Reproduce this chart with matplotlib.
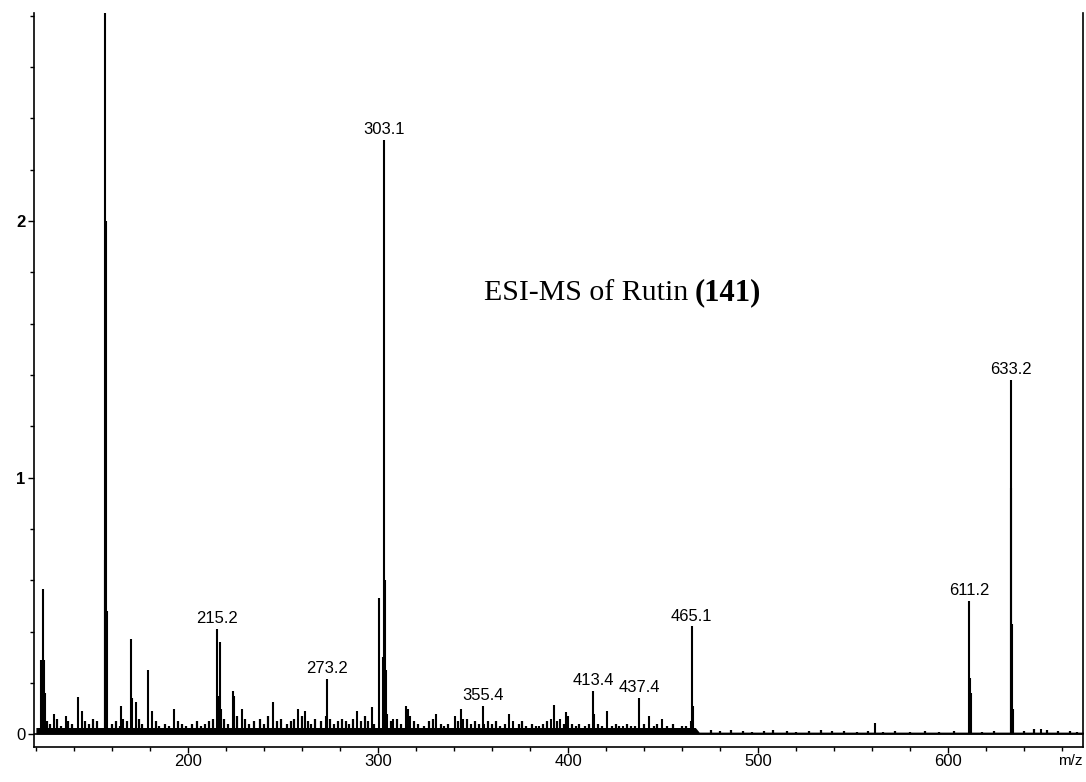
import matplotlib
matplotlib.use("Agg")
import matplotlib.pyplot as plt
from matplotlib.ticker import MultipleLocator

# labelled / major peaks (m/z, relative intensity)
peak_mz = [122.8, 123.5, 124.3, 125.0,
           156.3, 156.6, 156.9, 157.5,
           170.0, 170.5, 172.5, 179.0, 142.0, 144.0, 165.0, 166.0, 181.0, 192.6, 129.5, 135.6,
           215.2, 215.8, 216.8, 217.5, 223.7, 224.5, 228.4, 244.7, 258.0, 261.6,
           272.5, 273.2, 288.9, 297.0,
           300.5, 302.6, 303.1, 303.6, 304.2, 305.0, 308.0,
           314.7, 315.8, 317.0, 330.5, 340.5, 343.7, 345.0, 355.4, 356.0, 369.0, 371.0,
           384.7, 391.0, 392.6, 396.0, 399.0, 400.0,
           413.4, 413.9, 420.5, 429.0, 437.4, 442.6, 449.5, 458.0,
           464.6, 465.1, 465.6,
           561.6, 611.2, 611.5, 612.0, 632.9, 633.2, 633.5, 634.0, 649.0]
peak_h = [0.29, 0.565, 0.29, 0.16,
          0.68, 3.2, 2.0, 0.48,
          0.37, 0.14, 0.125, 0.25, 0.145, 0.09, 0.11, 0.06, 0.09, 0.10, 0.08, 0.07,
          0.41, 0.15, 0.36, 0.10, 0.17, 0.15, 0.10, 0.125, 0.10, 0.09,
          0.07, 0.215, 0.09, 0.105,
          0.53, 0.30, 2.316, 0.60, 0.25, 0.08, 0.06,
          0.11, 0.10, 0.07, 0.08, 0.07, 0.10, 0.06, 0.11, 0.04, 0.08, 0.05,
          0.03, 0.06, 0.115, 0.06, 0.085, 0.07,
          0.17, 0.08, 0.09, 0.03, 0.14, 0.07, 0.06, 0.02,
          0.05, 0.42, 0.11,
          0.045, 0.52, 0.22, 0.16, 0.96, 1.38, 0.43, 0.10, 0.02]

# small background peaks
noise_mz = [126, 127.5, 131, 133, 137, 139, 146, 148, 150, 152, 160, 162, 164, 168, 174, 176,
            183, 185, 188, 190, 195, 197, 199, 202, 205, 207, 209, 211, 213, 219, 221, 226,
            230, 232, 235, 238, 240, 242, 247, 249, 252, 254, 256, 260, 263, 265, 267, 270,
            275, 277, 279, 281, 283, 285, 287, 291, 293, 295, 298, 307, 310, 312, 319, 321,
            324, 327, 329, 333, 335, 337, 342, 347, 349, 351, 353, 358, 360, 362, 364, 367,
            374, 376, 378, 381, 383, 387, 389, 394, 398, 402, 404, 406, 409, 411, 416, 418,
            423, 425, 427, 431, 433, 435, 440, 445, 447, 452, 455, 460, 462,
            475, 480, 486, 492, 497, 503, 508, 515, 520, 527, 533, 539, 545, 552, 558, 566,
            572, 580, 588, 595, 603, 618, 624, 640, 645, 652, 658, 664, 668]
noise_h = [0.05, 0.04, 0.06, 0.03, 0.05, 0.04, 0.05, 0.04, 0.06, 0.05, 0.04, 0.05, 0.03, 0.05, 0.06, 0.04,
           0.05, 0.03, 0.04, 0.03, 0.05, 0.04, 0.03, 0.04, 0.05, 0.03, 0.04, 0.05, 0.06, 0.06, 0.04, 0.07,
           0.06, 0.04, 0.05, 0.06, 0.04, 0.07, 0.05, 0.06, 0.04, 0.05, 0.06, 0.07, 0.05, 0.04, 0.06, 0.05,
           0.06, 0.04, 0.05, 0.06, 0.05, 0.04, 0.06, 0.05, 0.07, 0.05, 0.04, 0.05, 0.06, 0.04, 0.05, 0.04,
           0.03, 0.05, 0.06, 0.04, 0.03, 0.04, 0.05, 0.06, 0.04, 0.05, 0.04, 0.05, 0.04, 0.05, 0.03, 0.04,
           0.04, 0.05, 0.03, 0.04, 0.03, 0.04, 0.05, 0.05, 0.04, 0.04, 0.03, 0.04, 0.03, 0.04, 0.04, 0.03,
           0.03, 0.04, 0.03, 0.04, 0.03, 0.03, 0.04, 0.03, 0.04, 0.03, 0.04, 0.03, 0.03,
           0.015, 0.012, 0.015, 0.012, 0.01, 0.012, 0.015, 0.012, 0.01, 0.012, 0.015, 0.012, 0.012, 0.01, 0.012, 0.01,
           0.012, 0.01, 0.012, 0.01, 0.012, 0.01, 0.012, 0.012, 0.02, 0.015, 0.012, 0.012, 0.01]

# noise floor
floor_mz = [120, 467, 469, 672]
floor_h = [0.026, 0.026, 0.008, 0.008]

label_mz = [215.2, 273.2, 303.1, 355.4, 413.4, 437.4, 465.1, 611.2, 633.2]
label_h = [0.41, 0.215, 2.316, 0.11, 0.17, 0.14, 0.42, 0.52, 1.38]
label_txt = ["215.2", "273.2", "303.1", "355.4", "413.4", "437.4", "465.1", "611.2", "633.2"]

plt.rcParams['font.family'] = ['Liberation Sans', 'DejaVu Sans']

fig = plt.figure(figsize=(10.86, 7.82), dpi=100)
ax = fig.add_axes([34 / 1086, 35 / 782, 1049 / 1086, 734 / 782])

ax.fill_between(floor_mz, 0, floor_h, color='black', lw=0)
ax.axhline(0, color='black', lw=1.2)
ax.vlines(noise_mz, 0, noise_h, color='black', lw=1.6)
ax.vlines(peak_mz, 0, peak_h, color='black', lw=1.5)

for x, h, t in zip(label_mz, label_h, label_txt):
    ax.annotate(t, (x, h), xytext=(0, 2), textcoords='offset points',
                ha='center', va='bottom', fontsize=12)

ax.text(356, 1.69, "ESI-MS of Rutin", fontsize=21.5, family='Liberation Serif',
        va='baseline', ha='left')
ax.text(466.5, 1.69, "(141)", fontsize=22, family='Liberation Serif',
        fontweight='bold', va='baseline', ha='left')

ax.set_xlim(119, 671)
ax.set_ylim(-0.05, 2.81)

ax.xaxis.set_major_locator(MultipleLocator(100))
ax.xaxis.set_minor_locator(MultipleLocator(20))
ax.yaxis.set_major_locator(MultipleLocator(1))
ax.yaxis.set_minor_locator(MultipleLocator(0.2))
ax.tick_params(which='both', direction='out', width=1, labelsize=12, pad=1)
ax.tick_params(which='major', length=4)
ax.tick_params(which='minor', length=3)
ax.tick_params(axis='y', pad=2)
fig.canvas.draw()
for lab in ax.get_yticklabels():
    if lab.get_text() in ('1', '2'):
        lab.set_fontweight('bold')

ax.spines['top'].set_visible(False)
for s in ['left', 'bottom', 'right']:
    ax.spines[s].set_linewidth(1.2)

ax.annotate("m/z", (1, 0), xycoords='axes fraction', xytext=(0, -5),
            textcoords='offset points', ha='right', va='top', fontsize=11)

fig.savefig("out.png", dpi=100)
